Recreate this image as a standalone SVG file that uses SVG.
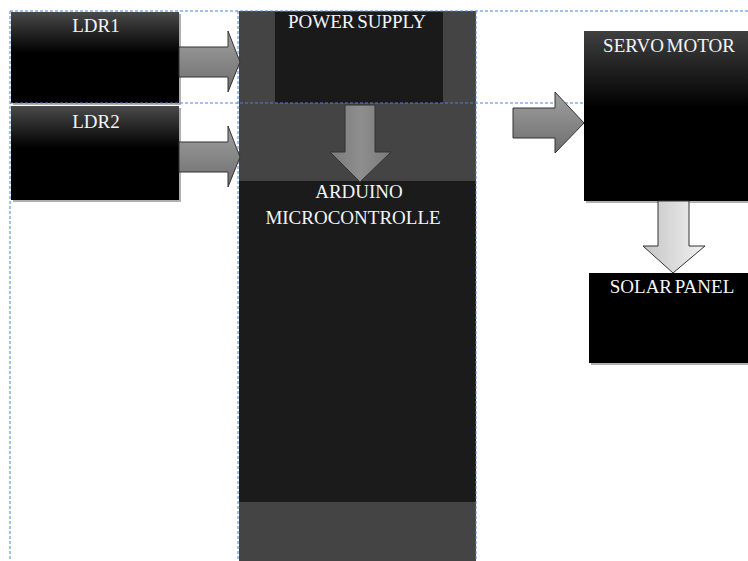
<svg xmlns="http://www.w3.org/2000/svg" width="748" height="561" viewBox="0 0 748 561">
  <defs>
    <linearGradient id="boxGrad" x1="0" y1="0" x2="0" y2="1">
      <stop offset="0" stop-color="#4a4a4a"/>
      <stop offset="0.45" stop-color="#000000"/>
      <stop offset="1" stop-color="#000000"/>
    </linearGradient>
    <linearGradient id="servoGrad" x1="0" y1="0" x2="0" y2="1">
      <stop offset="0" stop-color="#404040"/>
      <stop offset="0.45" stop-color="#000000"/>
      <stop offset="1" stop-color="#000000"/>
    </linearGradient>
    <linearGradient id="arrowH" x1="0" y1="0" x2="0" y2="1">
      <stop offset="0" stop-color="#a0a0a0"/>
      <stop offset="1" stop-color="#6e6e6e"/>
    </linearGradient>
    <linearGradient id="arrowV" x1="0" y1="0" x2="1" y2="0">
      <stop offset="0" stop-color="#7a7a7a"/>
      <stop offset="0.5" stop-color="#8e8e8e"/>
      <stop offset="1" stop-color="#7a7a7a"/>
    </linearGradient>
    <linearGradient id="arrowLight" x1="0" y1="0" x2="1" y2="0">
      <stop offset="0" stop-color="#c4c4c4"/>
      <stop offset="1" stop-color="#f2f2f2"/>
    </linearGradient>
    <style>
      .lbl { font-family: "Liberation Serif", "Times New Roman", serif; font-size: 19px; fill: #f2f5fa; text-anchor: middle; word-spacing: -2px; }
      .guide { stroke: #4a82dc; stroke-width: 1; stroke-dasharray: 3 2; fill: none; }
      .arrow { stroke: #333333; stroke-width: 1; stroke-linejoin: round; }
      .shadow { fill: #7a7a7a; opacity: 0.6; }
    </style>
  </defs>
  <rect width="748" height="561" fill="#ffffff"/>

  <!-- Arduino / power column -->
  <g id="column">
    <rect x="239" y="11" width="237" height="92" fill="#444444"/>
    <rect x="239" y="103" width="237" height="78" fill="#444444"/>
    <rect x="239" y="181" width="237" height="321" fill="#1b1b1b"/>
    <rect x="239" y="502" width="237" height="59" fill="#444444"/>
  </g>

  <g id="power-supply">
    <rect x="275" y="12" width="168" height="91" fill="#1a1a1a"/>
    <text class="lbl" x="357" y="28">POWER SUPPLY</text>
  </g>

  <g id="arduino">
    <text class="lbl" x="359" y="198">ARDUINO</text>
    <text class="lbl" x="353" y="224">MICROCONTROLLE</text>
  </g>

  <g id="ldr1">
    <rect class="shadow" x="13" y="14" width="168" height="91"/>
    <rect x="11" y="12" width="168" height="91" fill="url(#boxGrad)"/>
    <text class="lbl" x="96" y="32">LDR1</text>
  </g>

  <g id="ldr2">
    <rect class="shadow" x="13" y="108" width="168" height="94"/>
    <rect x="11" y="106" width="168" height="94" fill="url(#boxGrad)"/>
    <text class="lbl" x="96" y="128">LDR2</text>
  </g>

  <g id="servomotor">
    <rect class="shadow" x="586" y="33" width="164" height="170"/>
    <rect x="584" y="31" width="166" height="170" fill="url(#servoGrad)"/>
    <text class="lbl" x="669" y="52">SERVO MOTOR</text>
  </g>

  <g id="solar-panel">
    <rect class="shadow" x="591" y="275" width="159" height="90"/>
    <rect x="589" y="273" width="161" height="90" fill="#000000"/>
    <text class="lbl" x="672" y="293">SOLAR PANEL</text>
  </g>

  <!-- layout guides -->
  <g id="guides">
    <line class="guide" x1="10" y1="11" x2="748" y2="11"/>
    <line class="guide" x1="10" y1="103" x2="585" y2="103"/>
    <line class="guide" x1="10" y1="11" x2="10" y2="561"/>
    <line class="guide" x1="238" y1="11" x2="238" y2="561"/>
    <line class="guide" x1="476" y1="11" x2="476" y2="561"/>
  </g>

  <g id="connectors">
    <path class="arrow" fill="url(#arrowH)" d="M179,47 H228 V31 L240,62 L228,92 V77 H179 Z"/>
    <path class="arrow" fill="url(#arrowH)" d="M179,142 H228 V126 L240,157 L228,187 V172 H179 Z"/>
    <path class="arrow" fill="url(#arrowV)" d="M345,105 V152 H330 L360,182 L391,152 H375 V105 Z"/>
    <path class="arrow" fill="url(#arrowH)" d="M513,108 H555 V92 L584,123 L555,153 V138 H513 Z"/>
    <path class="arrow" fill="url(#arrowLight)" d="M658,201 V246 H643 L673,273 L705,246 H689 V201 Z"/>
  </g>
</svg>
